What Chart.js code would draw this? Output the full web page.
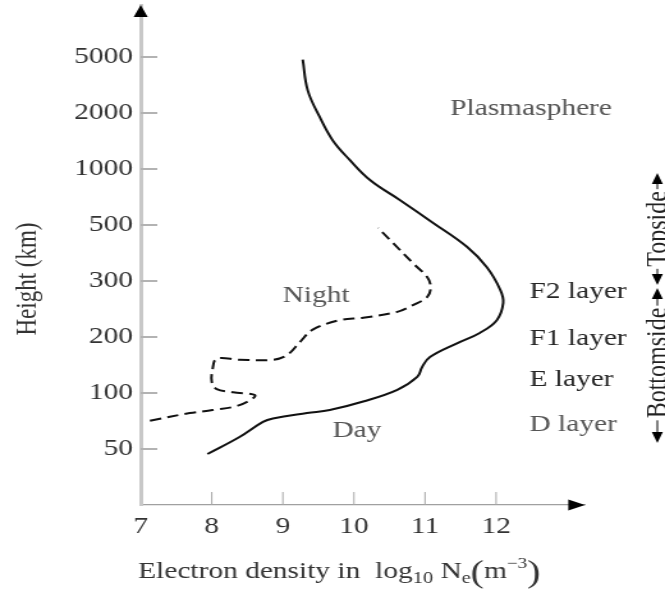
<!DOCTYPE html>
<html><head><meta charset="utf-8">
<script src="https://cdn.jsdelivr.net/npm/chart.js@4/dist/chart.umd.min.js"></script>
<style>html,body{margin:0;padding:0;background:#fff;overflow:hidden}
#c{display:block;width:665px !important;height:601px !important}</style>
</head><body>
<canvas id="c" width="520" height="601" style="width:665px;height:601px"></canvas>
<script>
// ---- data ----
const heightTicks = [50, 100, 200, 300, 500, 1000, 2000, 5000];   // km, equally spaced on the axis
const densityTicks = [7, 8, 9, 10, 11, 12];                        // log10 Ne (m^-3)
const dayDensity = [9.28, 9.35, 9.52, 9.70, 9.94, 10.23, 10.65, 11.11, 11.59, 11.87, 12.06, 12.10, 12.01, 11.77, 11.45, 11.07, 10.96, 10.89, 10.61, 10.13, 9.66, 9.34, 8.86, 8.72, 8.39, 7.94];
const dayHeight  = [4800, 2900, 1900, 1430, 1120, 870, 680, 515, 410, 340, 281, 256, 226, 206, 185, 156, 138, 122, 104, 90, 81, 78, 73, 70, 58, 47];
const nightDensity = [7.13, 7.69, 8.01, 8.39, 8.61, 8.30, 8.07, 8.00, 8.01, 8.07, 8.39, 8.86, 9.06, 9.24, 9.42, 9.80, 10.13, 10.61, 10.83, 11.03, 11.08, 11.03, 10.83, 10.51, 10.34];
const nightHeight  = [71, 78, 81, 86, 97, 101, 105, 115, 133, 153, 151, 151, 160, 188, 211, 226, 230, 240, 252, 267, 287, 311, 353, 436, 487];
const layerLabels = ['F2 layer', 'F1 layer', 'E layer', 'D layer'];

// position of a height on the piecewise-logarithmic axis (tick index units)
function hPos(h) {
  const t = heightTicks;
  let i = 0;
  if (h > t[0]) { while (i < t.length - 2 && h > t[i + 1]) i++; }
  return i + Math.log(h / t[i]) / Math.log(t[i + 1] / t[i]);
}

const SERIF = '"Liberation Serif", "Times New Roman", serif';

function tri(ctx, a, b, c) {
  ctx.beginPath(); ctx.moveTo(a[0], a[1]); ctx.lineTo(b[0], b[1]); ctx.lineTo(c[0], c[1]); ctx.closePath(); ctx.fill();
}
function seg(ctx, x1, y1, x2, y2) { ctx.beginPath(); ctx.moveTo(x1, y1); ctx.lineTo(x2, y2); ctx.stroke(); }
function noPad(s) { s.paddingTop = 0; s.paddingBottom = 0; s.paddingLeft = 0; s.paddingRight = 0; }

const decor = {
  id: 'decor',
  afterDraw(chart) {
    const ctx = chart.ctx;
    const { left, right, top, bottom } = chart.chartArea;
    const xs = chart.scales.x, ys = chart.scales.y;
    ctx.save();
    // inner tick marks
    ctx.strokeStyle = '#b3b3b3'; ctx.lineWidth = 2;
    heightTicks.forEach((h, i) => { const y = Math.round(ys.getPixelForValue(i)); seg(ctx, left, y, left + 13, y); });
    ctx.lineWidth = 1; ctx.strokeStyle = '#a8a8a8';
    densityTicks.slice(1).forEach(v => { const x = xs.getPixelForValue(v); seg(ctx, x, bottom, x, bottom - 13); });
    // axis arrowheads
    ctx.fillStyle = '#000';
    tri(ctx, [left, top], [left - 5.5, top + 12], [left + 5.5, top + 12]);
    tri(ctx, [right, bottom], [right - 13, bottom - 5.5], [right - 13, bottom + 5.5]);

    // labels
    ctx.textAlign = 'left'; ctx.textBaseline = 'alphabetic';
    ctx.font = '23px ' + SERIF;
    ctx.fillStyle = '#555'; ctx.fillText('Plasmasphere', 352, 115);
    ctx.fillText('Night', 221, 302);
    ctx.fillText('Day', 260, 437);
    const ly = [298, 345, 386, 431];
    layerLabels.forEach((t, i) => { ctx.fillStyle = i === 3 ? '#555' : '#262626'; ctx.fillText(t, 414, ly[i]); });

    // y title
    ctx.fillStyle = '#333';
    ctx.save(); ctx.translate(22, 279); ctx.rotate(-Math.PI / 2);
    ctx.textAlign = 'center'; ctx.textBaseline = 'middle'; ctx.fillText('Height (km)', 0, 0);
    ctx.restore();

    // x title with sub/superscripts
    let x = 108; const base = 578;
    const put = (txt, size, dy) => { ctx.font = size + 'px ' + SERIF; ctx.fillText(txt, x, base + dy); x += ctx.measureText(txt).width; };
    put('Electron density in  log', 23, 0);
    put('10', 16, 5);
    put(' N', 23, 0);
    put('e', 16, 5);
    put('(', 31, 4);
    put('m', 23, 0);
    put('\u22123', 15, -10);
    put(')', 31, 4);

    // Topside / Bottomside annotation
    const ax = 514;
    ctx.strokeStyle = '#000'; ctx.fillStyle = '#000'; ctx.lineWidth = 1;
    ctx.font = '24px ' + SERIF;
    const parts = [
      { txt: 'Topside', y0: 173, y1: 285, c: 229 },
      { txt: 'Bottomside', y0: 288, y1: 443, c: 363 }
    ];
    parts.forEach(p => {
      const w = ctx.measureText(p.txt).width;
      tri(ctx, [ax, p.y0], [ax - 4.3, p.y0 + 11], [ax + 4.3, p.y0 + 11]);
      tri(ctx, [ax, p.y1], [ax - 4.3, p.y1 - 11], [ax + 4.3, p.y1 - 11]);
      seg(ctx, ax, p.y0 + 10, ax, p.c - w / 2 - 2);
      seg(ctx, ax, p.c + w / 2 + 2, ax, p.y1 - 10);
      ctx.save(); ctx.translate(520.5, p.c); ctx.rotate(-Math.PI / 2);
      ctx.textAlign = 'center'; ctx.textBaseline = 'alphabetic'; ctx.fillStyle = '#222';
      ctx.fillText(p.txt, 0, 0);
      ctx.restore();
    });
    ctx.restore();
  }
};

new Chart(document.getElementById('c'), {
  type: 'scatter',
  data: {
    datasets: [
      { label: 'Day', data: dayDensity.map((x, i) => ({ x, y: hPos(dayHeight[i]) })), showLine: true,
        borderColor: '#111', borderWidth: 2, pointRadius: 0, tension: 0.4, fill: false },
      { label: 'Night', data: nightDensity.map((x, i) => ({ x, y: hPos(nightHeight[i]) })), showLine: true,
        borderColor: '#111', borderWidth: 2, borderDash: [9, 5], pointRadius: 0, tension: 0.35, fill: false }
    ]
  },
  options: {
    responsive: false, animation: false, devicePixelRatio: 1,
    layout: { padding: { left: 0, right: 62.6, top: 5, bottom: 0 } },
    plugins: { legend: { display: false }, tooltip: { enabled: false } },
    scales: {
      x: {
        type: 'linear', min: 7, max: 13.25,
        afterFit(s) { s.height = 96; noPad(s); },
        afterBuildTicks(s) { s.ticks = densityTicks.map(v => ({ value: v })); },
        grid: { display: false, drawTicks: false },
        border: { display: true, color: '#a0a0a0', width: 1.3 },
        ticks: { autoSkip: false, maxRotation: 0, padding: 8, color: '#333',
                 font: { family: SERIF, size: 23 }, callback: v => String(v) }
      },
      y: {
        type: 'linear', min: -1, max: 7.93,
        afterFit(s) { s.width = 110; noPad(s); },
        afterBuildTicks(s) { s.ticks = heightTicks.map((h, i) => ({ value: i })); },
        grid: { display: false, drawTicks: false },
        border: { display: true, color: '#c8c8c8', width: 3 },
        ticks: { autoSkip: false, padding: 6, color: '#333',
                 font: { family: SERIF, size: 23 }, callback: v => String(heightTicks[v]) }
      }
    }
  },
  plugins: [decor]
});
</script>
</body></html>
